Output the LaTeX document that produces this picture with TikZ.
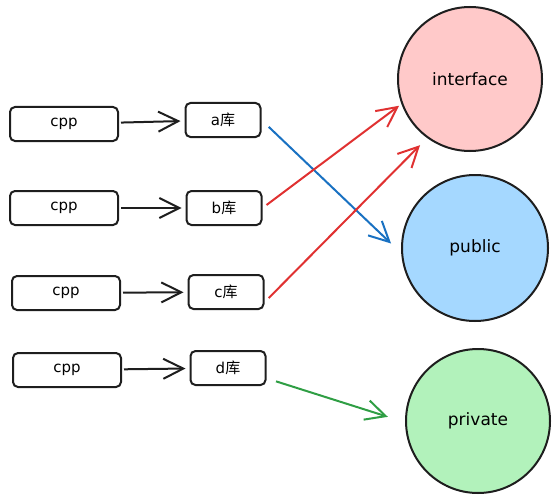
\documentclass[tikz,border=0pt]{standalone}
\usepackage{fontspec}
\setmainfont{DejaVu Sans}
\newfontfamily\cjk{Noto Sans CJK SC}
\usetikzlibrary{arrows.meta,positioning,calc}
\definecolor{inkblack}{HTML}{1E1E1E}
\definecolor{redfill}{HTML}{FFC9C9}
\definecolor{bluefill}{HTML}{A5D8FF}
\definecolor{greenfill}{HTML}{B2F2BB}
\definecolor{redline}{HTML}{E03131}
\definecolor{blueline}{HTML}{1971C2}
\definecolor{greenline}{HTML}{2F9E44}
\newcommand{\ku}{{\cjk 库}}
\tikzset{x=1pt, y=-1pt, % pixel-like units, y grows downwards
        srcbox/.style={ % the cpp boxes
            draw=inkblack, line width=2pt, rounded corners=5pt,
            minimum width=108pt, minimum height=34pt, inner sep=0pt,
            font=\fontsize{15}{17}\selectfont},
        libbox/.style={ % the library boxes
            srcbox, minimum width=75pt},
        scopecirc/.style={ % the three big circles
            circle, draw=inkblack, line width=2pt, inner sep=0pt,
            font=\fontsize{17}{19}\selectfont},
        barb/.tip={Straight Barb[length=20pt,width=20pt,line width=2pt]},
        every edge/.style={ % Sets the properties for each link
            draw, -barb,
            line width=2pt}
        }

\begin{document}
\begin{tikzpicture}
    \useasboundingbox (0,0) rectangle (559,500);

    \node[srcbox] (cppa) at (64,124) {cpp};
    \node[srcbox] (cppb) at (64,208) {cpp};
    \node[srcbox] (cppc) at (66,293) {cpp};
    \node[srcbox] (cppd) at (67,370) {cpp};

    \node[libbox] (liba) at (223,120) {a\ku};
    \node[libbox] (libb) at (224,208) {b\ku};
    \node[libbox] (libc) at (226,292) {c\ku};
    \node[libbox] (libd) at (228,368) {d\ku};

    \node[scopecirc, fill=redfill, minimum size=144pt] (interface) at (470,79) {interface};
    \node[scopecirc, fill=bluefill, minimum size=146pt] (public) at (475,248) {public};
    \node[scopecirc, fill=greenfill, minimum size=144pt] (private) at (478,421) {private};

    \draw[inkblack] (cppa) edge[shorten <=2pt, shorten >=4pt] (liba);
    \draw[inkblack] (cppb) edge[shorten <=2pt, shorten >=4pt] (libb);
    \draw[inkblack] (cppc) edge[shorten <=2pt, shorten >=4pt] (libc);
    \draw[inkblack] (cppd) edge[shorten <=2pt, shorten >=4pt] (libd);

    \draw[blueline] (liba.east) edge[shorten <=10pt, shorten >=14pt] (public.184);
    \draw[redline] (libb.east) edge[shorten <=5pt, shorten >=3pt] (interface.200);
    \draw[redline] (libc.-15) edge[shorten <=6pt, shorten >=10pt] (interface.234);
    \draw[greenline] (libd.-15) edge[shorten <=10pt, shorten >=18pt] (private.181);
\end{tikzpicture}
\end{document}
